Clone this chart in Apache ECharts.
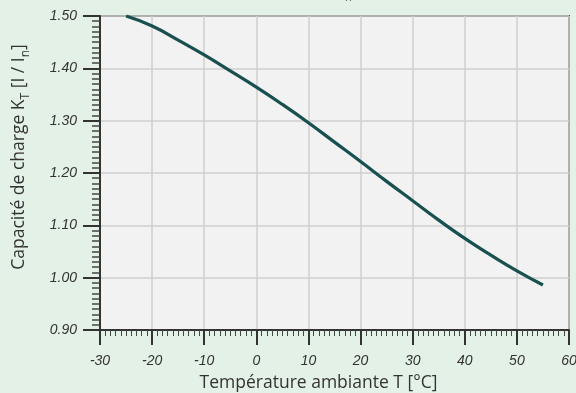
<!DOCTYPE html>
<html>
<head>
<meta charset="utf-8">
<script src="https://cdn.jsdelivr.net/npm/echarts@6/dist/echarts.min.js"></script>
<style>
  html, body { margin: 0; padding: 0; background: #e4f1e7; }
  #chart { width: 576px; height: 393px; }
</style>
</head>
<body>
<div id="chart"></div>
<script>
// Ambient temperature (°C) and load capacity factor K_T
const temperatures = [-25, -20, -15, -10, -5, 0, 5, 10, 15, 20, 25, 30, 35, 40, 45, 50, 55];
const loadFactor   = [1.500, 1.481, 1.454, 1.4255, 1.395, 1.364, 1.331, 1.296, 1.259, 1.222, 1.184, 1.147, 1.110, 1.075, 1.043, 1.013, 0.986];

const xTicks = { min: -30, max: 60, step: 10 };
const yTicks = { min: 0.90, max: 1.50, step: 0.10 };

const points = temperatures.map((t, i) => [t, loadFactor[i]]);

const labelFont = { fontFamily: 'Liberation Sans, Arial, sans-serif', fontStyle: 'italic', fontSize: 14, color: '#333' };
const nameFamily = 'Open Sans, Noto Sans, sans-serif';
const nameFont = { fontFamily: nameFamily, fontSize: 17.5, color: '#333' };

const chart = echarts.init(document.getElementById('chart'), null, { renderer: 'canvas' });
chart.setOption({
  backgroundColor: '#e4f1e7',
  animation: false,
  grid: {
    left: 100, right: 7, top: 16, bottom: 63,
    containLabel: false, outerBoundsMode: 'none',
    show: true, backgroundColor: '#f2f2f2', borderColor: '#555', borderWidth: 2
  },
  graphic: [{
    type: 'text', x: 345, y: 3, z: 10,
    style: { text: 'n', fontSize: 11, fontFamily: nameFamily, fill: '#555', verticalAlign: 'bottom' }
  }],
  xAxis: {
    type: 'value', min: xTicks.min, max: xTicks.max, interval: xTicks.step,
    name: 'Température ambiante T [°C]',
    nameLocation: 'middle', nameGap: 44,
    nameTextStyle: Object.assign({ padding: [0, 32, 0, 0] }, nameFont),
    axisLine: { show: true, onZero: false, lineStyle: { color: '#333', width: 2 } },
    axisTick: { show: true, length: 15, lineStyle: { color: '#333', width: 2 } },
    minorTick: { show: true, splitNumber: 10, length: 6, lineStyle: { color: '#444', width: 1 } },
    axisLabel: Object.assign({ margin: 24 }, labelFont),
    splitLine: { show: true, lineStyle: { color: '#cfcfcf', width: 1.5 } }
  },
  yAxis: {
    type: 'value', min: yTicks.min, max: yTicks.max, interval: yTicks.step,
    name: '{a|Capacité de charge K}{s|T}{a| [I / I}{s|n}{a|]}',
    nameLocation: 'middle', nameGap: 72,
    nameTextStyle: Object.assign({}, nameFont, {
      padding: [0, 0, 0, 32],
      rich: {
        a: { fontFamily: nameFamily, fontSize: 17.5, color: '#333', verticalAlign: 'bottom', lineHeight: 22 },
        s: { fontFamily: nameFamily, fontSize: 12, color: '#333', verticalAlign: 'bottom', lineHeight: 14, padding: [0, 0, -4, 0] }
      }
    }),
    axisLine: { show: true, onZero: false, lineStyle: { color: '#333', width: 2 } },
    axisTick: { show: true, length: 17, lineStyle: { color: '#333', width: 2 } },
    minorTick: { show: true, splitNumber: 10, length: 8, lineStyle: { color: '#444', width: 1.5 } },
    axisLabel: Object.assign({ margin: 23, formatter: v => v.toFixed(2) }, labelFont),
    splitLine: { show: true, lineStyle: { color: '#cfcfcf', width: 1.5 } }
  },
  series: [{
    type: 'line', data: points, smooth: true, showSymbol: false,
    lineStyle: { color: '#184f4f', width: 3.2 }
  }]
});
</script>
</body>
</html>
